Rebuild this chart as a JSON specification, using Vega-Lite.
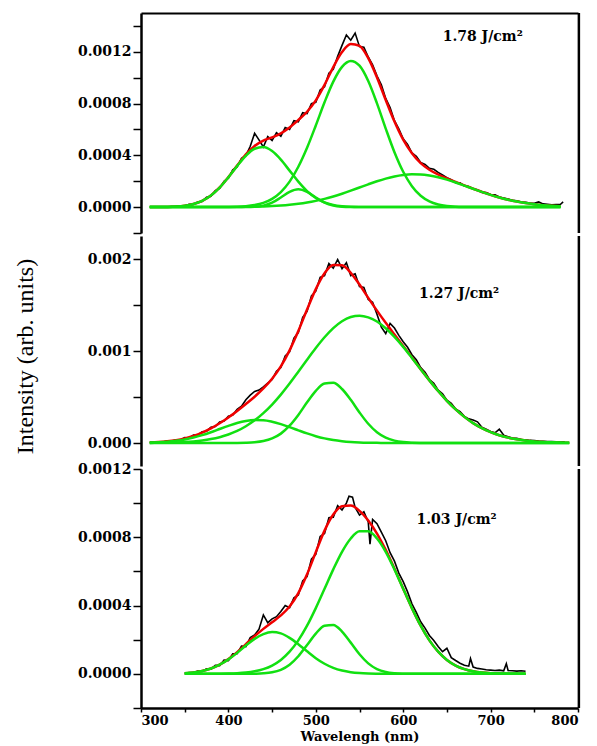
{
"$schema":"https://vega.github.io/schema/vega-lite/v6.json",
"background":"white",
"padding":{"left":13,"top":11,"right":5,"bottom":2},
"spacing":3,
"bounds":"flush",
"config":{"view":{"stroke":null},"axis":{"grid":false,"labelOverlap":false,"domainColor":"black","tickColor":"black","labelColor":"black","titleColor":"black","labelFont":"DejaVu Serif","labelFontWeight":"bold","labelFontSize":13,"domainWidth":2.5,"tickWidth":1.5}},
"datasets":{
"topfit":[
{"x":310,"g1":0.2e-6,"g2":0,"g3":0,"g4":0,"f":0.2e-6},
{"x":320,"g1":0.5e-6,"g2":0,"g3":0,"g4":0,"f":0.5e-6},
{"x":330,"g1":1.6e-6,"g2":0,"g3":0,"g4":0,"f":1.6e-6},
{"x":340,"g1":4.3e-6,"g2":0,"g3":0,"g4":0,"f":4.3e-6},
{"x":350,"g1":10.6e-6,"g2":0,"g3":0,"g4":0,"f":10.6e-6},
{"x":360,"g1":23.9e-6,"g2":0,"g3":0,"g4":0.1e-6,"f":24e-6},
{"x":370,"g1":48.6e-6,"g2":0,"g3":0,"g4":0.1e-6,"f":48.7e-6},
{"x":380,"g1":90e-6,"g2":0,"g3":0.1e-6,"g4":0.2e-6,"f":90.3e-6},
{"x":390,"g1":151e-6,"g2":0,"g3":0.4e-6,"g4":0.4e-6,"f":152e-6},
{"x":400,"g1":230e-6,"g2":0,"g3":1.2e-6,"g4":0.7e-6,"f":232e-6},
{"x":410,"g1":317e-6,"g2":0.1e-6,"g3":3e-6,"g4":1.2e-6,"f":321e-6},
{"x":420,"g1":397e-6,"g2":0.5e-6,"g3":7.1e-6,"g4":2e-6,"f":407e-6},
{"x":430,"g1":451e-6,"g2":2.9e-6,"g3":15.8e-6,"g4":3.3e-6,"f":473e-6},
{"x":440,"g1":464e-6,"g2":11.7e-6,"g3":33e-6,"g4":5.2e-6,"f":514e-6},
{"x":450,"g1":433e-6,"g2":34.4e-6,"g3":64e-6,"g4":8e-6,"f":539e-6},
{"x":460,"g1":367e-6,"g2":74.4e-6,"g3":116.5e-6,"g4":12.1e-6,"f":570e-6},
{"x":470,"g1":282e-6,"g2":118e-6,"g3":197e-6,"g4":17.8e-6,"f":615e-6},
{"x":480,"g1":197e-6,"g2":138e-6,"g3":312e-6,"g4":25.5e-6,"f":673e-6},
{"x":490,"g1":124e-6,"g2":118e-6,"g3":459e-6,"g4":35.5e-6,"f":737e-6},
{"x":500,"g1":71e-6,"g2":74.4e-6,"g3":631e-6,"g4":48.3e-6,"f":825e-6},
{"x":510,"g1":37e-6,"g2":34.4e-6,"g3":810e-6,"g4":63.9e-6,"f":945e-6},
{"x":520,"g1":17.4e-6,"g2":11.7e-6,"g3":970e-6,"g4":82.5e-6,"f":1082e-6},
{"x":530,"g1":7.5e-6,"g2":2.9e-6,"g3":1084e-6,"g4":103.7e-6,"f":1198e-6},
{"x":540,"g1":2.9e-6,"g2":0.5e-6,"g3":1130e-6,"g4":127e-6,"f":1260e-6},
{"x":550,"g1":1e-6,"g2":0,"g3":1093e-6,"g4":151.6e-6,"f":1246e-6},
{"x":560,"g1":0.3e-6,"g2":0,"g3":975e-6,"g4":176.3e-6,"f":1151e-6},
{"x":570,"g1":0,"g2":0,"g3":802e-6,"g4":199.7e-6,"f":1002e-6},
{"x":580,"g1":0,"g2":0,"g3":607e-6,"g4":220.5e-6,"f":828e-6},
{"x":590,"g1":0,"g2":0,"g3":424e-6,"g4":237.1e-6,"f":661e-6},
{"x":600,"g1":0,"g2":0,"g3":273e-6,"g4":248.4e-6,"f":521e-6},
{"x":610,"g1":0,"g2":0,"g3":162e-6,"g4":253.7e-6,"f":416e-6},
{"x":620,"g1":0,"g2":0,"g3":88e-6,"g4":252.4e-6,"f":340e-6},
{"x":630,"g1":0,"g2":0,"g3":44.5e-6,"g4":244.6e-6,"f":289e-6},
{"x":640,"g1":0,"g2":0,"g3":20.7e-6,"g4":231e-6,"f":252e-6},
{"x":650,"g1":0,"g2":0,"g3":8.8e-6,"g4":212.5e-6,"f":221e-6},
{"x":660,"g1":0,"g2":0,"g3":3.5e-6,"g4":190.6e-6,"f":194e-6},
{"x":670,"g1":0,"g2":0,"g3":1.3e-6,"g4":166.4e-6,"f":168e-6},
{"x":680,"g1":0,"g2":0,"g3":0.4e-6,"g4":141.7e-6,"f":142e-6},
{"x":690,"g1":0,"g2":0,"g3":0,"g4":117.5e-6,"f":118e-6},
{"x":700,"g1":0,"g2":0,"g3":0,"g4":94.9e-6,"f":95e-6},
{"x":710,"g1":0,"g2":0,"g3":0,"g4":74.7e-6,"f":74.7e-6},
{"x":720,"g1":0,"g2":0,"g3":0,"g4":57.3e-6,"f":57.3e-6},
{"x":730,"g1":0,"g2":0,"g3":0,"g4":42.8e-6,"f":42.8e-6},
{"x":740,"g1":0,"g2":0,"g3":0,"g4":31.2e-6,"f":31.2e-6},
{"x":750,"g1":0,"g2":0,"g3":0,"g4":22.1e-6,"f":22.1e-6},
{"x":760,"g1":0,"g2":0,"g3":0,"g4":15.3e-6,"f":15.3e-6},
{"x":770,"g1":0,"g2":0,"g3":0,"g4":10.3e-6,"f":10.3e-6},
{"x":780,"g1":0,"g2":0,"g3":0,"g4":6.8e-6,"f":6.8e-6}
],
"topraw":[
{"x":325,"y":3e-6},{"x":330,"y":1e-6},{"x":335,"y":5e-6},{"x":340,"y":2e-6},{"x":345,"y":10e-6},{"x":350,"y":8e-6},{"x":355,"y":21e-6},{"x":360,"y":20e-6},{"x":365,"y":40e-6},{"x":370,"y":44e-6},{"x":375,"y":76e-6},{"x":380,"y":84e-6},{"x":385,"y":128e-6},{"x":390,"y":145e-6},{"x":395,"y":200e-6},{"x":400,"y":224e-6},{"x":405,"y":288e-6},{"x":410,"y":310e-6},{"x":415,"y":378e-6},{"x":420,"y":398e-6},{"x":425,"y":470e-6},{"x":430,"y":570e-6},{"x":435,"y":520e-6},{"x":440,"y":465e-6},{"x":445,"y":545e-6},{"x":450,"y":515e-6},{"x":455,"y":575e-6},{"x":460,"y":548e-6},{"x":465,"y":615e-6},{"x":470,"y":600e-6},{"x":475,"y":668e-6},{"x":480,"y":660e-6},{"x":485,"y":730e-6},{"x":490,"y":722e-6},{"x":495,"y":800e-6},{"x":500,"y":810e-6},{"x":505,"y":905e-6},{"x":510,"y":930e-6},{"x":515,"y":1035e-6},{"x":520,"y":1065e-6},{"x":525,"y":1165e-6},{"x":530,"y":1250e-6},{"x":535,"y":1330e-6},{"x":540,"y":1290e-6},{"x":545,"y":1345e-6},{"x":550,"y":1240e-6},{"x":555,"y":1235e-6},{"x":560,"y":1160e-6},{"x":565,"y":1100e-6},{"x":570,"y":1015e-6},{"x":575,"y":945e-6},{"x":580,"y":840e-6},{"x":585,"y":770e-6},{"x":590,"y":668e-6},{"x":595,"y":605e-6},{"x":600,"y":528e-6},{"x":605,"y":484e-6},{"x":610,"y":420e-6},{"x":615,"y":392e-6},{"x":620,"y":345e-6},{"x":625,"y":330e-6},{"x":630,"y":300e-6},{"x":635,"y":292e-6},{"x":640,"y":268e-6},{"x":645,"y":248e-6},{"x":650,"y":228e-6},{"x":655,"y":212e-6},{"x":660,"y":188e-6},{"x":665,"y":188e-6},{"x":670,"y":164e-6},{"x":675,"y":160e-6},{"x":680,"y":140e-6},{"x":685,"y":134e-6},{"x":690,"y":114e-6},{"x":695,"y":112e-6},{"x":700,"y":98e-6},{"x":705,"y":95e-6},{"x":710,"y":78e-6},{"x":715,"y":70e-6},{"x":720,"y":62e-6},{"x":725,"y":52e-6},{"x":730,"y":48e-6},{"x":735,"y":40e-6},{"x":740,"y":38e-6},{"x":745,"y":32e-6},{"x":750,"y":30e-6},{"x":755,"y":40e-6},{"x":760,"y":25e-6},{"x":765,"y":22e-6},{"x":770,"y":18e-6},{"x":775,"y":20e-6},{"x":780,"y":22e-6},{"x":783,"y":40e-6}
],
"midfit":[
{"x":310,"g1":4.2e-6,"g2":0,"g3":1.3e-6,"f":5.5e-6},
{"x":320,"g1":7.9e-6,"g2":0,"g3":2.3e-6,"f":10.2e-6},
{"x":330,"g1":14.2e-6,"g2":0,"g3":4e-6,"f":18.2e-6},
{"x":340,"g1":24.1e-6,"g2":0,"g3":6.7e-6,"f":30.8e-6},
{"x":350,"g1":38.8e-6,"g2":0,"g3":11e-6,"f":49.8e-6},
{"x":360,"g1":59.2e-6,"g2":0,"g3":17.7e-6,"f":76.9e-6},
{"x":370,"g1":85.5e-6,"g2":0,"g3":27.7e-6,"f":113e-6},
{"x":380,"g1":117e-6,"g2":0,"g3":42.4e-6,"f":159e-6},
{"x":390,"g1":152e-6,"g2":0,"g3":63.2e-6,"f":215e-6},
{"x":400,"g1":186e-6,"g2":0.2e-6,"g3":92e-6,"f":278e-6},
{"x":410,"g1":217e-6,"g2":0.8e-6,"g3":131e-6,"f":349e-6},
{"x":420,"g1":239e-6,"g2":2.8e-6,"g3":182e-6,"f":424e-6},
{"x":430,"g1":249e-6,"g2":8.1e-6,"g3":246e-6,"f":503e-6},
{"x":440,"g1":247e-6,"g2":21.3e-6,"g3":325e-6,"f":593e-6},
{"x":450,"g1":231e-6,"g2":49.5e-6,"g3":418e-6,"f":699e-6},
{"x":460,"g1":205e-6,"g2":102e-6,"g3":526e-6,"f":833e-6},
{"x":470,"g1":173e-6,"g2":188e-6,"g3":646e-6,"f":1007e-6},
{"x":480,"g1":138e-6,"g2":305e-6,"g3":774e-6,"f":1217e-6},
{"x":490,"g1":104e-6,"g2":442e-6,"g3":905e-6,"f":1451e-6},
{"x":500,"g1":74e-6,"g2":567e-6,"g3":1032e-6,"f":1673e-6},
{"x":510,"g1":50e-6,"g2":646e-6,"g3":1149e-6,"f":1845e-6},
{"x":520,"g1":32e-6,"g2":654e-6,"g3":1249e-6,"f":1935e-6},
{"x":530,"g1":19.6e-6,"g2":587e-6,"g3":1324e-6,"f":1931e-6},
{"x":540,"g1":11.3e-6,"g2":469e-6,"g3":1370e-6,"f":1850e-6},
{"x":550,"g1":6.2e-6,"g2":332e-6,"g3":1384e-6,"f":1722e-6},
{"x":560,"g1":3.2e-6,"g2":209e-6,"g3":1366e-6,"f":1578e-6},
{"x":570,"g1":1.6e-6,"g2":117e-6,"g3":1320e-6,"f":1439e-6},
{"x":580,"g1":0.7e-6,"g2":57.8e-6,"g3":1247e-6,"f":1306e-6},
{"x":590,"g1":0.3e-6,"g2":25.5e-6,"g3":1154e-6,"f":1180e-6},
{"x":600,"g1":0.1e-6,"g2":9.9e-6,"g3":1045e-6,"f":1055e-6},
{"x":610,"g1":0,"g2":3.5e-6,"g3":925e-6,"f":929e-6},
{"x":620,"g1":0,"g2":1.1e-6,"g3":802e-6,"f":803e-6},
{"x":630,"g1":0,"g2":0.3e-6,"g3":681e-6,"f":681e-6},
{"x":640,"g1":0,"g2":0,"g3":565e-6,"f":565e-6},
{"x":650,"g1":0,"g2":0,"g3":459e-6,"f":459e-6},
{"x":660,"g1":0,"g2":0,"g3":365e-6,"f":365e-6},
{"x":670,"g1":0,"g2":0,"g3":284e-6,"f":284e-6},
{"x":680,"g1":0,"g2":0,"g3":216e-6,"f":216e-6},
{"x":690,"g1":0,"g2":0,"g3":161e-6,"f":161e-6},
{"x":700,"g1":0,"g2":0,"g3":118e-6,"f":118e-6},
{"x":710,"g1":0,"g2":0,"g3":84e-6,"f":84e-6},
{"x":720,"g1":0,"g2":0,"g3":58.5e-6,"f":58.5e-6},
{"x":730,"g1":0,"g2":0,"g3":40e-6,"f":40e-6},
{"x":740,"g1":0,"g2":0,"g3":26.8e-6,"f":26.8e-6},
{"x":750,"g1":0,"g2":0,"g3":17.5e-6,"f":17.5e-6},
{"x":760,"g1":0,"g2":0,"g3":11.2e-6,"f":11.2e-6},
{"x":770,"g1":0,"g2":0,"g3":7e-6,"f":7e-6},
{"x":780,"g1":0,"g2":0,"g3":4.3e-6,"f":4.3e-6},
{"x":790,"g1":0,"g2":0,"g3":2.6e-6,"f":2.6e-6}
],
"midraw":[
{"x":310,"y":8e-6},{"x":315,"y":4e-6},{"x":320,"y":14e-6},{"x":325,"y":10e-6},{"x":330,"y":22e-6},{"x":335,"y":20e-6},{"x":340,"y":36e-6},{"x":345,"y":34e-6},{"x":350,"y":58e-6},{"x":355,"y":55e-6},{"x":360,"y":86e-6},{"x":365,"y":88e-6},{"x":370,"y":122e-6},{"x":375,"y":128e-6},{"x":380,"y":170e-6},{"x":385,"y":178e-6},{"x":390,"y":228e-6},{"x":395,"y":238e-6},{"x":400,"y":292e-6},{"x":405,"y":305e-6},{"x":410,"y":365e-6},{"x":415,"y":400e-6},{"x":420,"y":470e-6},{"x":425,"y":520e-6},{"x":430,"y":560e-6},{"x":435,"y":575e-6},{"x":440,"y":610e-6},{"x":445,"y":650e-6},{"x":450,"y":690e-6},{"x":455,"y":780e-6},{"x":460,"y":820e-6},{"x":465,"y":945e-6},{"x":470,"y":990e-6},{"x":475,"y":1140e-6},{"x":480,"y":1200e-6},{"x":485,"y":1365e-6},{"x":490,"y":1430e-6},{"x":495,"y":1600e-6},{"x":500,"y":1650e-6},{"x":505,"y":1800e-6},{"x":510,"y":1820e-6},{"x":515,"y":1950e-6},{"x":520,"y":1900e-6},{"x":525,"y":1995e-6},{"x":530,"y":1895e-6},{"x":535,"y":1960e-6},{"x":540,"y":1820e-6},{"x":545,"y":1840e-6},{"x":550,"y":1700e-6},{"x":555,"y":1690e-6},{"x":560,"y":1560e-6},{"x":565,"y":1530e-6},{"x":570,"y":1400e-6},{"x":575,"y":1260e-6},{"x":580,"y":1190e-6},{"x":585,"y":1300e-6},{"x":590,"y":1250e-6},{"x":595,"y":1170e-6},{"x":600,"y":1100e-6},{"x":605,"y":1040e-6},{"x":610,"y":960e-6},{"x":615,"y":905e-6},{"x":620,"y":820e-6},{"x":625,"y":770e-6},{"x":630,"y":690e-6},{"x":635,"y":650e-6},{"x":640,"y":575e-6},{"x":645,"y":535e-6},{"x":650,"y":465e-6},{"x":655,"y":430e-6},{"x":660,"y":370e-6},{"x":665,"y":340e-6},{"x":670,"y":290e-6},{"x":675,"y":262e-6},{"x":680,"y":250e-6},{"x":685,"y":230e-6},{"x":690,"y":170e-6},{"x":695,"y":150e-6},{"x":700,"y":125e-6},{"x":705,"y":110e-6},{"x":710,"y":150e-6},{"x":715,"y":85e-6},{"x":720,"y":68e-6},{"x":725,"y":55e-6},{"x":730,"y":50e-6},{"x":735,"y":38e-6},{"x":740,"y":36e-6},{"x":745,"y":28e-6},{"x":750,"y":26e-6},{"x":755,"y":20e-6},{"x":760,"y":19e-6},{"x":765,"y":15e-6},{"x":770,"y":16e-6},{"x":775,"y":12e-6},{"x":780,"y":12e-6},{"x":785,"y":10e-6}
],
"botfit":[
{"x":350,"g1":3.8e-6,"g2":0,"g3":0,"f":3.8e-6},
{"x":360,"g1":8.3e-6,"g2":0,"g3":0,"f":8.3e-6},
{"x":370,"g1":16.8e-6,"g2":0,"g3":0.1e-6,"f":16.9e-6},
{"x":380,"g1":31.3e-6,"g2":0,"g3":0.3e-6,"f":31.6e-6},
{"x":390,"g1":53.7e-6,"g2":0,"g3":0.7e-6,"f":54.4e-6},
{"x":400,"g1":84.7e-6,"g2":0,"g3":1.7e-6,"f":86.4e-6},
{"x":410,"g1":123e-6,"g2":0,"g3":3.7e-6,"f":126.7e-6},
{"x":420,"g1":166e-6,"g2":0.1e-6,"g3":7.6e-6,"f":173.7e-6},
{"x":430,"g1":205e-6,"g2":0.8e-6,"g3":14.9e-6,"f":220.7e-6},
{"x":440,"g1":233e-6,"g2":2.9e-6,"g3":27.6e-6,"f":263.5e-6},
{"x":450,"g1":245e-6,"g2":8.9e-6,"g3":48.7e-6,"f":302.6e-6},
{"x":460,"g1":237e-6,"g2":23.6e-6,"g3":81.7e-6,"f":342.3e-6},
{"x":470,"g1":211e-6,"g2":53.4e-6,"g3":130e-6,"f":394.4e-6},
{"x":480,"g1":174e-6,"g2":103e-6,"g3":196e-6,"f":473e-6},
{"x":490,"g1":132e-6,"g2":169e-6,"g3":282e-6,"f":583e-6},
{"x":500,"g1":92e-6,"g2":236e-6,"g3":385e-6,"f":713e-6},
{"x":510,"g1":59.2e-6,"g2":282e-6,"g3":498e-6,"f":839e-6},
{"x":520,"g1":35.1e-6,"g2":286e-6,"g3":612e-6,"f":933e-6},
{"x":530,"g1":19.2e-6,"g2":248e-6,"g3":715e-6,"f":982e-6},
{"x":540,"g1":9.7e-6,"g2":183e-6,"g3":793e-6,"f":986e-6},
{"x":550,"g1":4.5e-6,"g2":115e-6,"g3":835e-6,"f":955e-6},
{"x":560,"g1":1.9e-6,"g2":61.6e-6,"g3":835e-6,"f":898e-6},
{"x":570,"g1":0.8e-6,"g2":28.1e-6,"g3":793e-6,"f":822e-6},
{"x":580,"g1":0.3e-6,"g2":10.9e-6,"g3":715e-6,"f":726e-6},
{"x":590,"g1":0.1e-6,"g2":3.6e-6,"g3":612e-6,"f":616e-6},
{"x":600,"g1":0,"g2":1e-6,"g3":498e-6,"f":499e-6},
{"x":610,"g1":0,"g2":0.2e-6,"g3":385e-6,"f":385e-6},
{"x":620,"g1":0,"g2":0,"g3":282e-6,"f":282e-6},
{"x":630,"g1":0,"g2":0,"g3":196e-6,"f":196e-6},
{"x":640,"g1":0,"g2":0,"g3":130e-6,"f":130e-6},
{"x":650,"g1":0,"g2":0,"g3":81.7e-6,"f":81.7e-6},
{"x":660,"g1":0,"g2":0,"g3":48.7e-6,"f":48.7e-6},
{"x":670,"g1":0,"g2":0,"g3":27.6e-6,"f":27.6e-6},
{"x":680,"g1":0,"g2":0,"g3":14.9e-6,"f":14.9e-6},
{"x":690,"g1":0,"g2":0,"g3":7.6e-6,"f":7.6e-6},
{"x":700,"g1":0,"g2":0,"g3":3.7e-6,"f":3.7e-6},
{"x":710,"g1":0,"g2":0,"g3":1.7e-6,"f":1.7e-6},
{"x":720,"g1":0,"g2":0,"g3":0.7e-6,"f":0.7e-6},
{"x":730,"g1":0,"g2":0,"g3":0.3e-6,"f":0.3e-6},
{"x":740,"g1":0,"g2":0,"g3":0.1e-6,"f":0.1e-6}
],
"botraw":[
{"x":350,"y":2e-6},{"x":355,"y":8e-6},{"x":360,"y":6e-6},{"x":365,"y":16e-6},{"x":370,"y":14e-6},{"x":375,"y":30e-6},{"x":380,"y":28e-6},{"x":385,"y":50e-6},{"x":390,"y":48e-6},{"x":395,"y":80e-6},{"x":400,"y":78e-6},{"x":405,"y":118e-6},{"x":410,"y":118e-6},{"x":415,"y":162e-6},{"x":420,"y":160e-6},{"x":425,"y":212e-6},{"x":430,"y":228e-6},{"x":435,"y":262e-6},{"x":440,"y":345e-6},{"x":445,"y":300e-6},{"x":450,"y":322e-6},{"x":455,"y":335e-6},{"x":460,"y":365e-6},{"x":465,"y":400e-6},{"x":470,"y":388e-6},{"x":475,"y":445e-6},{"x":480,"y":462e-6},{"x":485,"y":545e-6},{"x":490,"y":570e-6},{"x":495,"y":672e-6},{"x":500,"y":700e-6},{"x":505,"y":805e-6},{"x":510,"y":822e-6},{"x":515,"y":915e-6},{"x":520,"y":918e-6},{"x":525,"y":985e-6},{"x":530,"y":960e-6},{"x":535,"y":1000e-6},{"x":538,"y":1040e-6},{"x":542,"y":1035e-6},{"x":545,"y":975e-6},{"x":550,"y":930e-6},{"x":555,"y":950e-6},{"x":560,"y":890e-6},{"x":562,"y":760e-6},{"x":565,"y":905e-6},{"x":570,"y":880e-6},{"x":575,"y":830e-6},{"x":580,"y":780e-6},{"x":585,"y":710e-6},{"x":590,"y":660e-6},{"x":595,"y":590e-6},{"x":600,"y":540e-6},{"x":605,"y":480e-6},{"x":610,"y":410e-6},{"x":615,"y":360e-6},{"x":620,"y":305e-6},{"x":625,"y":268e-6},{"x":630,"y":225e-6},{"x":635,"y":195e-6},{"x":640,"y":160e-6},{"x":645,"y":130e-6},{"x":650,"y":150e-6},{"x":655,"y":95e-6},{"x":660,"y":78e-6},{"x":665,"y":62e-6},{"x":670,"y":50e-6},{"x":675,"y":45e-6},{"x":677,"y":90e-6},{"x":680,"y":40e-6},{"x":685,"y":32e-6},{"x":690,"y":28e-6},{"x":695,"y":24e-6},{"x":700,"y":22e-6},{"x":705,"y":20e-6},{"x":710,"y":22e-6},{"x":715,"y":18e-6},{"x":718,"y":60e-6},{"x":720,"y":20e-6},{"x":725,"y":18e-6},{"x":730,"y":16e-6},{"x":735,"y":18e-6},{"x":740,"y":15e-6}
]
},
"vconcat":[
{"width":437,"height":220,
"layer":[
{"data":{"name":"topraw"},"mark":{"type":"line","color":"black","strokeWidth":1.6},
"encoding":{"x":{"field":"x","type":"quantitative","scale":{"domain":[300,800],"nice":false},"axis":{"orient":"top","labels":false,"ticks":false,"title":null,"domainWidth":2}},
"y":{"field":"y","type":"quantitative","scale":{"domain":[-0.0002,0.0015],"nice":false,"zero":false},"axis":{"values":[-0.0002,0,0.0002,0.0004,0.0006,0.0008,0.001,0.0012,0.0014],"tickCount":30,"labelExpr":"abs(datum.value)<0.00001 || abs(datum.value-0.0004)<0.00001 || abs(datum.value-0.0008)<0.00001 || abs(datum.value-0.0012)<0.00001 ? format(datum.value,'.4f') : ''","labelOverlap":false,"title":null,"tickSize":8,"labelPadding":2,"labelFontSize":14}}}},
{"data":{"name":"topfit"},"mark":{"type":"line","color":"#f00000","strokeWidth":2.5,"interpolate":"monotone"},
"encoding":{"x":{"field":"x","type":"quantitative","scale":{"domain":[300,800],"nice":false}},
"y":{"field":"f","type":"quantitative","scale":{"domain":[-0.0002,0.0015],"nice":false,"zero":false}}}},
{"data":{"name":"topfit"},"transform":[{"fold":["g1","g2","g3","g4"]}],"mark":{"type":"line","color":"#11e011","strokeWidth":2.5,"interpolate":"monotone"},
"encoding":{"x":{"field":"x","type":"quantitative","scale":{"domain":[300,800],"nice":false}},
"y":{"field":"value","type":"quantitative","scale":{"domain":[-0.0002,0.0015],"nice":false,"zero":false}},"detail":{"field":"key"}}},
{"data":{"values":[{}]},"mark":{"type":"text","text":"1.78 J/cm²","font":"DejaVu Serif","fontWeight":"bold","fontSize":14,"align":"center","baseline":"middle"},
"encoding":{"x":{"datum":691,"type":"quantitative","scale":{"domain":[300,800],"nice":false}},"y":{"datum":0.001315,"type":"quantitative","scale":{"domain":[-0.0002,0.0015],"nice":false,"zero":false}}}},
{"data":{"values":[{}]},"mark":{"type":"rule","color":"black","strokeWidth":2.5},
"encoding":{"x":{"datum":801,"type":"quantitative","scale":{"domain":[300,800],"nice":false}}}}
]},
{"width":437,"height":230,
"layer":[
{"data":{"name":"midraw"},"mark":{"type":"line","color":"black","strokeWidth":1.6},
"encoding":{"x":{"field":"x","type":"quantitative","scale":{"domain":[300,800],"nice":false},"axis":null},
"y":{"field":"y","type":"quantitative","scale":{"domain":[-0.00025,0.00225],"nice":false,"zero":false},"axis":{"values":[0,0.0005,0.001,0.0015,0.002],"tickCount":30,"labelExpr":"round(datum.value*2000)%2==0 ? format(datum.value,'.3f') : ''","labelOverlap":false,"tickSize":8,"labelPadding":2,"labelFontSize":14,"title":"Intensity (arb. units)","titleFont":"Liberation Serif","titleFontWeight":"normal","titleFontSize":24,"titleX":-116,"titleY":120,"titleAngle":-90,"titleAlign":"center","titleBaseline":"middle"}}}},
{"data":{"name":"midfit"},"mark":{"type":"line","color":"#f00000","strokeWidth":2.5,"interpolate":"monotone"},
"encoding":{"x":{"field":"x","type":"quantitative","scale":{"domain":[300,800],"nice":false}},
"y":{"field":"f","type":"quantitative","scale":{"domain":[-0.00025,0.00225],"nice":false,"zero":false}}}},
{"data":{"name":"midfit"},"transform":[{"fold":["g1","g2","g3"]}],"mark":{"type":"line","color":"#11e011","strokeWidth":2.5,"interpolate":"monotone"},
"encoding":{"x":{"field":"x","type":"quantitative","scale":{"domain":[300,800],"nice":false}},
"y":{"field":"value","type":"quantitative","scale":{"domain":[-0.00025,0.00225],"nice":false,"zero":false}},"detail":{"field":"key"}}},
{"data":{"values":[{}]},"mark":{"type":"text","text":"1.27 J/cm²","font":"DejaVu Serif","fontWeight":"bold","fontSize":14,"align":"center","baseline":"middle"},
"encoding":{"x":{"datum":664,"type":"quantitative","scale":{"domain":[300,800],"nice":false}},"y":{"datum":0.00162,"type":"quantitative","scale":{"domain":[-0.00025,0.00225],"nice":false,"zero":false}}}},
{"data":{"values":[{}]},"mark":{"type":"rule","color":"black","strokeWidth":2.5},
"encoding":{"x":{"datum":801,"type":"quantitative","scale":{"domain":[300,800],"nice":false}}}}
]},
{"width":437,"height":239,
"layer":[
{"data":{"name":"botraw"},"mark":{"type":"line","color":"black","strokeWidth":1.6},
"encoding":{"x":{"field":"x","type":"quantitative","scale":{"domain":[300,800],"nice":false},"axis":{"values":[300,350,400,450,500,550,600,650,700,750,800],"tickCount":30,"labelExpr":"datum.value%100==0 ? datum.label : ''","labelOverlap":false,"tickSize":4,"labelPadding":2,"title":"Wavelengh (nm)","titleFont":"DejaVu Serif","titleFontWeight":"bold","titleFontSize":13,"titlePadding":3}},
"y":{"field":"y","type":"quantitative","scale":{"domain":[-0.0002,0.0012],"nice":false,"zero":false},"axis":{"values":[-0.0002,0,0.0002,0.0004,0.0006,0.0008,0.001,0.0012],"tickCount":30,"labelExpr":"abs(datum.value)<0.00001 || abs(datum.value-0.0004)<0.00001 || abs(datum.value-0.0008)<0.00001 || abs(datum.value-0.0012)<0.00001 ? format(datum.value,'.4f') : ''","labelOverlap":false,"title":null,"tickSize":8,"labelPadding":2,"labelFontSize":14}}}},
{"data":{"name":"botfit"},"mark":{"type":"line","color":"#f00000","strokeWidth":2.5,"interpolate":"monotone"},
"encoding":{"x":{"field":"x","type":"quantitative","scale":{"domain":[300,800],"nice":false}},
"y":{"field":"f","type":"quantitative","scale":{"domain":[-0.0002,0.0012],"nice":false,"zero":false}}}},
{"data":{"name":"botfit"},"transform":[{"fold":["g1","g2","g3"]}],"mark":{"type":"line","color":"#11e011","strokeWidth":2.5,"interpolate":"monotone"},
"encoding":{"x":{"field":"x","type":"quantitative","scale":{"domain":[300,800],"nice":false}},
"y":{"field":"value","type":"quantitative","scale":{"domain":[-0.0002,0.0012],"nice":false,"zero":false}},"detail":{"field":"key"}}},
{"data":{"values":[{}]},"mark":{"type":"text","text":"1.03 J/cm²","font":"DejaVu Serif","fontWeight":"bold","fontSize":14,"align":"center","baseline":"middle"},
"encoding":{"x":{"datum":661,"type":"quantitative","scale":{"domain":[300,800],"nice":false}},"y":{"datum":0.0009,"type":"quantitative","scale":{"domain":[-0.0002,0.0012],"nice":false,"zero":false}}}},
{"data":{"values":[{}]},"mark":{"type":"rule","color":"black","strokeWidth":2.5},
"encoding":{"x":{"datum":801,"type":"quantitative","scale":{"domain":[300,800],"nice":false}}}}
]}
]
}
